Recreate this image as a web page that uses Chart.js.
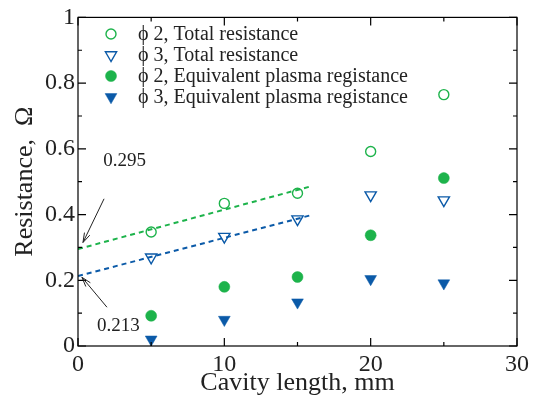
<!DOCTYPE html>
<html><head><meta charset="utf-8">
<script src="https://cdn.jsdelivr.net/npm/chart.js@4"></script>
<style>html,body{margin:0;padding:0;background:#fff}#wrap{width:540px;height:400px}</style>
</head><body><div id="wrap"><canvas id="c" width="540" height="400"></canvas></div>
<script>
// ---- data ----
const cavityLength = [5, 10, 15, 20, 25];
const phi2Total = [0.347, 0.434, 0.465, 0.592, 0.765];
const phi3Total = [0.270, 0.333, 0.386, 0.459, 0.444];
const phi2Plasma = [0.092, 0.180, 0.210, 0.337, 0.511];
const phi3Plasma = [0.020, 0.080, 0.133, 0.204, 0.191];
const fitX = [0, 16];
const phi2Fit = [0.295, 0.487];
const phi3Fit = [0.213, 0.399];
const seriesLabels = ['ϕ 2, Total resistance', 'ϕ 3, Total resistance', 'ϕ 2, Equivalent plasma registance', 'ϕ 3, Equivalent plasma registance'];
const xTicks = [0, 10, 20, 30];
const yTicks = [0, 0.2, 0.4, 0.6, 0.8, 1];
const interceptLabels = ['0.295', '0.213'];

const GREEN = '#1db34b', BLUE = '#0b5aa8';
const SERIF = "'Liberation Serif','Times New Roman',serif";

const pts = (xs, ys) => xs.map((x, i) => ({x, y: ys[i]}));

// annotation placement in data units
const annotations = [
  {text: interceptLabels[0], tx: 1.72, ty: 0.562, from: [1.78, 0.448], to: [0.34, 0.315]},
  {text: interceptLabels[1], tx: 1.30, ty: 0.060, from: [1.98, 0.118], to: [0.27, 0.209]}
];

const framePlugin = {
  id: 'frame',
  afterDatasetsDraw(chart) {
    const {ctx, chartArea: {left, right, top, bottom}, scales: {x, y}} = chart;
    ctx.save();
    ctx.strokeStyle = '#000';
    ctx.lineWidth = 1.2;
    ctx.strokeRect(left, top, right - left, bottom - top);
    for (let v = x.min; v <= x.max + 1e-9; v += 5) {
      const px = x.getPixelForValue(v);
      const L = (Math.round(v) % 10 === 0) ? 8 : 4;
      ctx.beginPath();
      ctx.moveTo(px, bottom); ctx.lineTo(px, bottom - L);
      ctx.moveTo(px, top); ctx.lineTo(px, top + L);
      ctx.stroke();
    }
    for (let k = 0; k <= 10; k++) {
      const py = y.getPixelForValue(k / 10);
      const L = (k % 2 === 0) ? 8 : 4;
      ctx.beginPath();
      ctx.moveTo(left, py); ctx.lineTo(left + L, py);
      ctx.moveTo(right, py); ctx.lineTo(right - L, py);
      ctx.stroke();
    }
    // annotations
    ctx.fillStyle = '#222';
    ctx.strokeStyle = '#222';
    ctx.lineWidth = 1;
    ctx.font = '19px ' + SERIF;
    ctx.textAlign = 'left';
    ctx.textBaseline = 'middle';
    annotations.forEach(a => {
      ctx.fillText(a.text, x.getPixelForValue(a.tx), y.getPixelForValue(a.ty));
      const x1 = x.getPixelForValue(a.from[0]), y1 = y.getPixelForValue(a.from[1]);
      const x2 = x.getPixelForValue(a.to[0]), y2 = y.getPixelForValue(a.to[1]);
      ctx.beginPath(); ctx.moveTo(x1, y1); ctx.lineTo(x2, y2); ctx.stroke();
      const ang = Math.atan2(y2 - y1, x2 - x1), h = 10, w = 0.3;
      ctx.beginPath();
      ctx.moveTo(x2 - h * Math.cos(ang - w), y2 - h * Math.sin(ang - w));
      ctx.lineTo(x2, y2);
      ctx.lineTo(x2 - h * Math.cos(ang + w), y2 - h * Math.sin(ang + w));
      ctx.stroke();
    });
    // legend
    const lx = 111, ly0 = 34, dy = 21;
    ctx.font = '20px ' + SERIF;
    for (let i = 0; i < 4; i++) {
      const ds = chart.data.datasets[i];
      const yy = ly0 + i * dy;
      ctx.fillStyle = ds.backgroundColor;
      ctx.strokeStyle = ds.borderColor;
      ctx.lineWidth = ds.borderWidth;
      Chart.helpers.drawPoint(ctx, {pointStyle: ds.pointStyle, radius: ds.pointRadius, rotation: ds.rotation || 0, borderWidth: ds.borderWidth}, lx, yy);
      ctx.fillStyle = '#222';
      ctx.fillText(seriesLabels[i], 138, yy + 1);
    }
    ctx.restore();
  }
};

new Chart(document.getElementById('c'), {
  type: 'scatter',
  data: {
    datasets: [
      {label: seriesLabels[0], data: pts(cavityLength, phi2Total), pointStyle: 'circle', pointRadius: 5, borderColor: GREEN, backgroundColor: 'rgba(0,0,0,0)', borderWidth: 1.4},
      {label: seriesLabels[1], data: pts(cavityLength, phi3Total), pointStyle: 'triangle', rotation: 180, pointRotation: 180, pointRadius: 6.5, borderColor: BLUE, backgroundColor: 'rgba(0,0,0,0)', borderWidth: 1.4},
      {label: seriesLabels[2], data: pts(cavityLength, phi2Plasma), pointStyle: 'circle', pointRadius: 5.5, borderColor: GREEN, backgroundColor: GREEN, borderWidth: 0.5},
      {label: seriesLabels[3], data: pts(cavityLength, phi3Plasma), pointStyle: 'triangle', rotation: 180, pointRotation: 180, pointRadius: 6.8, borderColor: BLUE, backgroundColor: BLUE, borderWidth: 0.5},
      {type: 'line', label: 'fit2', data: pts(fitX, phi2Fit), borderColor: GREEN, borderWidth: 2, borderDash: [5, 4], pointRadius: 0, fill: false},
      {type: 'line', label: 'fit3', data: pts(fitX, phi3Fit), borderColor: BLUE, borderWidth: 2, borderDash: [5, 4], pointRadius: 0, fill: false}
    ]
  },
  options: {
    responsive: false,
    devicePixelRatio: 1,
    animation: false,
    layout: {padding: {top: 16, right: 23, left: 0, bottom: 0}},
    plugins: {legend: {display: false}, tooltip: {enabled: false}},
    scales: {
      x: {
        type: 'linear', min: 0, max: 30,
        afterBuildTicks: s => { s.ticks = xTicks.map(v => ({value: v})); },
        afterFit: s => { s.height = 54; },
        ticks: {font: {family: SERIF, size: 24}, color: '#222', padding: 4, maxRotation: 0, autoSkip: false,
          callback: v => String(v)},
        grid: {display: false, drawTicks: false},
        border: {display: false},
        title: {display: true, text: 'Cavity length, mm', font: {family: SERIF, size: 26}, color: '#222', padding: {top: 0, bottom: 1}}
      },
      y: {
        type: 'linear', min: 0, max: 1,
        afterBuildTicks: s => { s.ticks = yTicks.map(v => ({value: v})); },
        afterFit: s => { s.width = 78; },
        ticks: {font: {family: SERIF, size: 24}, color: '#222', padding: 3, autoSkip: false,
          callback: v => String(Math.round(v * 10) / 10)},
        grid: {display: false, drawTicks: false},
        border: {display: false},
        title: {display: true, text: 'Resistance,  Ω', font: {family: SERIF, size: 26}, color: '#222', padding: {top: 10, bottom: 0}}
      }
    }
  },
  plugins: [framePlugin]
});
</script></body></html>
